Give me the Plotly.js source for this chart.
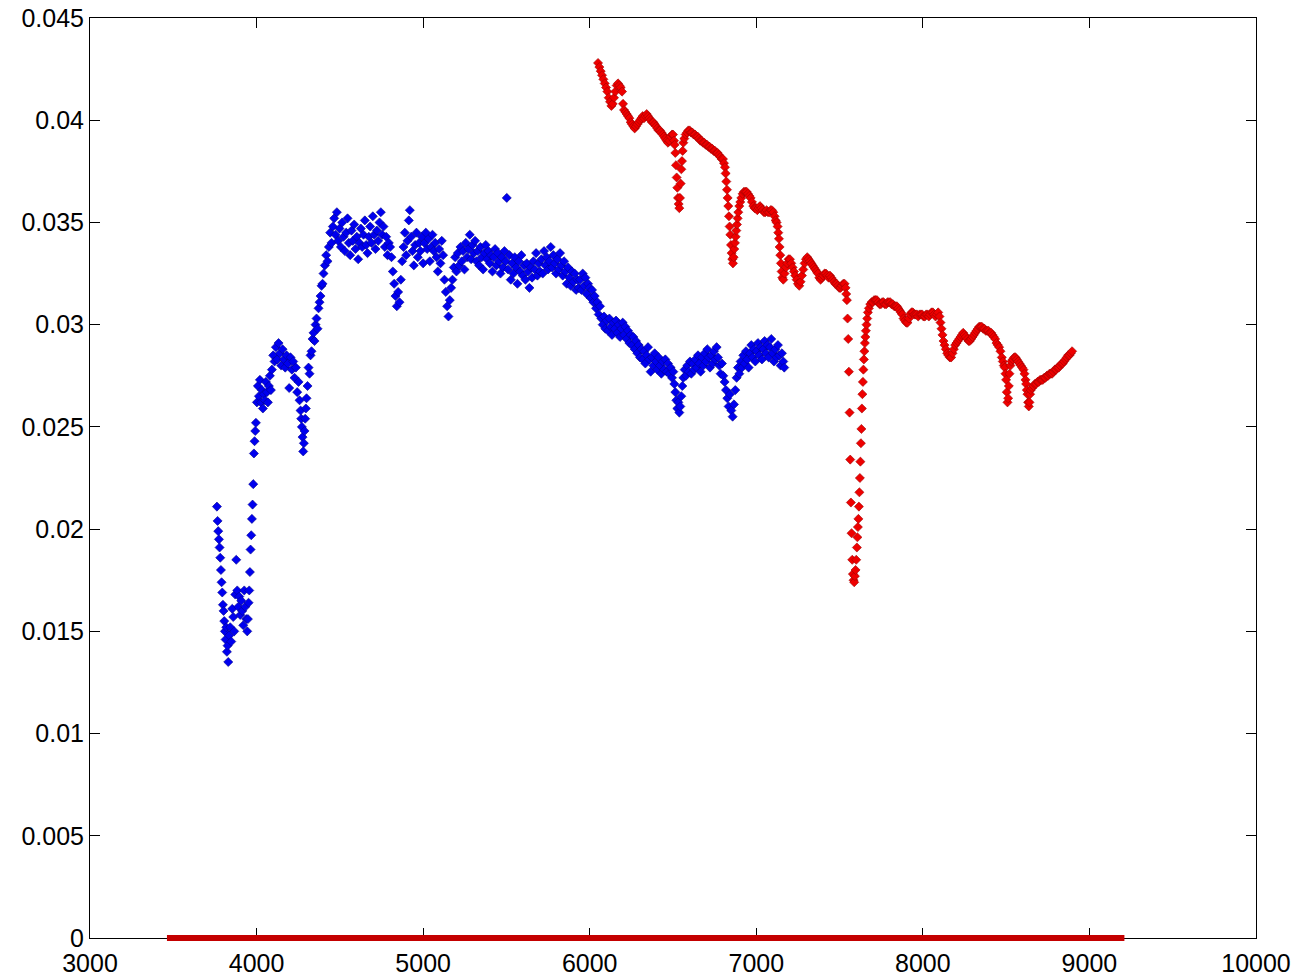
<!DOCTYPE html>
<html>
<head>
<meta charset="utf-8">
<script src="https://cdn.plot.ly/plotly-3.0.1.min.js"></script>
<style>html,body{margin:0;padding:0;background:#fff;}#chart{width:1298px;height:978px;}</style>
</head>
<body>
<div id="chart"></div>
<script>
// Blue series (wavelength, flux)
const blueX = [
3762,3766,3770,3774,3778,3782,3786,3790,3794,3798,3802,3806,3810,3814,3818,3822,3826,3830,
3836,3842,3848,3854,3860,3866,3872,3878,3884,3890,3896,3902,3908,3914,3920,3926,3932,3938,3944,
3948,3952,3956,3960,3964,3968,3972,3976,3980,3984,3988,3992,3996,
4002,4008,4014,4020,4026,4032,4038,4044,4050,4056,4062,4068,4074,4080,4086,
4092,4100,4108,4116,4124,4132,4140,4148,4156,4164,4172,4180,4188,4196,4204,4212,4220,4228,4236,4244,4252,4258,
4264,4268,4272,4276,4280,4284,4288,4292,4296,4300,
4306,4312,4318,4324,4330,4336,4342,4348,4354,4360,4366,4372,4378,4384,4390,4396,4402,4410,4418,4426,4434,4442,4450,4458,4466,4474,4482,
4490,4498,4506,4514,4522,4530,4538,4546,4554,4562,
4570,4578,4586,4594,4602,4610,4618,4626,4634,4642,
4650,4658,4666,4674,4682,4690,4698,4706,4714,4722,
4730,4738,4746,4754,4762,4770,4778,4786,4794,
4802,4810,4818,4826,4834,4842,4850,4858,4866,4874,4882,
4890,4898,4906,4914,4920,4928,4936,4944,4952,4960,
4968,4976,4984,4992,5000,5008,5016,5024,5032,5040,
5048,5056,5064,5072,5080,5088,5096,5104,5112,5120,
5128,5136,5144,5152,5160,5168,5176,5184,
5192,5200,5208,5216,5224,5232,5240,5248,5256,5264,
5272,5280,5288,5296,5304,5312,5320,5328,5336,5344,
5352,5360,5368,5376,5384,5392,5400,5408,5416,5424,
5432,5440,5448,5456,5464,5472,5480,5488,5496,5502,
5510,5518,5526,5534,5542,5550,5558,5566,5574,5582,
5590,5598,5606,5614,5622,5630,5638,5646,5654,5662,
5670,5678,5686,5694,5702,5710,5718,5726,5734,5742,
5750,5758,5766,5774,5782,5790,5798,
5806,5814,5822,5830,5838,5846,5854,5862,5870,5878,
5886,5894,5902,5910,5918,5926,5934,
5942,5950,5958,5966,5974,5982,5990,5998,6006,6014,
6022,6030,6038,6046,6054,6062,6070,6078,6086,6094,6102,
6110,6118,6126,6134,6142,6150,6158,6166,6174,6182,
6190,6198,6206,6214,6222,6230,6238,6246,6254,
6262,6270,6278,6286,6294,6302,6310,6318,6326,6334,
6342,6350,6358,6366,6374,6382,6390,6398,6406,6414,
6422,6430,6438,6446,6454,6462,6470,6478,6486,6494,6502,
6508,6514,6520,6526,6532,6538,6544,6550,6556,6562,
6570,6578,6586,6594,6602,6610,6618,6626,6634,6642,
6650,6658,6666,6674,6682,6690,6698,6706,6714,6722,
6730,6738,6746,6754,6762,6770,6778,6786,6794,6802,6810,
6818,6826,6834,6842,6850,6858,6866,6874,6882,
6890,6898,6906,6914,6922,6930,6938,6946,6954,6962,
6970,6978,6986,6994,7002,7010,7018,7026,7034,7042,
7050,7058,7066,7074,7082,7090,7098,7106,7114,7122,
7130,7138,7146,7154,7162,7168
];
const blueY = [
.0211,.0204,.0199,.0195,.0191,.0186,.0180,.0174,.0169,.0163,.0160,.0155,.0150,.0146,.0152,.0140,.0143,.0135,
.0148,.0152,.0145,.0161,.0157,.0150,.0168,.0185,.0170,.0162,.0167,.0158,.0165,.0160,.0153,.0170,.0162,.0156,.0150,
.0156,.0164,.0170,.0179,.0190,.0197,.0205,.0212,.0222,.0237,.0243,.0248,.0252,
.0262,.0270,.0265,.0273,.0262,.0268,.0259,.0266,.0263,.0272,.0267,.0262,.0270,.0275,.0268,
.0278,.0285,.0282,.0289,.0283,.0291,.0286,.0280,.0288,.0283,.0279,.0285,.0281,.0269,.0284,.0278,.0282,.0274,.0279,.0267,.0272,.0263,
.0258,.0254,.0250,.0245,.0238,.0242,.0248,.0254,.0259,.0264,
.0270,.0279,.0276,.0285,.0287,.0293,.0296,.0292,.0300,.0303,.0298,.0308,.0311,.0314,.0319,.0320,.0325,.0329,.0334,.0331,.0338,.0345,.0340,.0348,.0352,.0344,.0355,
.0341,.0347,.0338,.0350,.0343,.0336,.0345,.0352,.0340,.0334,
.0346,.0341,.0349,.0337,.0343,.0332,.0340,.0347,.0338,.0344,
.0351,.0339,.0335,.0343,.0348,.0340,.0353,.0344,.0337,.0346,
.0341,.0350,.0355,.0344,.0348,.0338,.0343,.0334,.0340,
.0338,.0333,.0326,.0320,.0314,.0309,.0316,.0311,.0322,.0331,.0338,
.0345,.0334,.0341,.0351,.0356,.0343,.0336,.0329,.0339,.0345,
.0333,.0340,.0336,.0343,.0330,.0340,.0345,.0337,.0342,.0331,
.0338,.0344,.0336,.0340,.0333,.0326,.0337,.0330,.0341,.0334,
.0322,.0316,.0309,.0304,.0312,.0318,.0322,.0328,
.0333,.0326,.0335,.0329,.0338,.0331,.0336,.0327,.0340,.0333,
.0337,.0344,.0332,.0339,.0335,.0341,.0331,.0336,.0329,.0338,
.0333,.0327,.0335,.0339,.0332,.0336,.0330,.0334,.0326,.0333,
.0337,.0329,.0335,.0331,.0325,.0333,.0328,.0336,.0331,.0362,
.0327,.0334,.0322,.0330,.0325,.0333,.0328,.0320,.0331,.0326,
.0334,.0324,.0329,.0322,.0330,.0326,.0318,.0328,.0323,.0331,
.0327,.0335,.0324,.0330,.0326,.0332,.0325,.0336,.0329,.0333,
.0327,.0331,.0338,.0328,.0334,.0330,.0325,
.0332,.0327,.0335,.0329,.0324,.0331,.0326,.0320,.0328,.0323,
.0319,.0326,.0321,.0325,.0317,.0322,.0318,
.0322,.0317,.0325,.0319,.0323,.0315,.0320,.0318,.0313,.0317,
.0311,.0314,.0308,.0311,.0305,.0309,.0303,.0300,.0304,.0298,.0302,
.0297,.0303,.0299,.0295,.0301,.0298,.0302,.0296,.0300,.0294,
.0298,.0301,.0295,.0299,.0293,.0297,.0291,.0295,.0290,
.0294,.0288,.0292,.0286,.0290,.0284,.0288,.0283,.0287,.0281,
.0285,.0289,.0283,.0277,.0284,.0280,.0286,.0282,.0278,.0284,
.0280,.0276,.0282,.0278,.0283,.0277,.0281,.0276,.0279,.0274,.0277,
.0271,.0267,.0263,.0259,.0262,.0257,.0260,.0265,.0270,.0274,
.0278,.0275,.0280,.0277,.0282,.0276,.0281,.0278,.0283,.0279,
.0285,.0281,.0277,.0284,.0280,.0286,.0282,.0288,.0284,.0279,
.0285,.0281,.0287,.0283,.0289,.0284,.0280,.0276,.0281,.0275,.0272,
.0268,.0264,.0260,.0266,.0258,.0255,.0261,.0268,.0274,
.0279,.0276,.0282,.0279,.0285,.0281,.0287,.0283,.0279,.0286,
.0290,.0284,.0288,.0282,.0287,.0291,.0285,.0289,.0283,.0288,
.0292,.0286,.0290,.0284,.0289,.0293,.0286,.0282,.0288,.0284,
.0290,.0285,.0280,.0286,.0282,.0279
];

// Red series (wavelength, flux)
const redX = [
6050,6058,6066,6074,6082,6090,6098,6106,6114,6122,
6130,6138,6146,6154,6162,6170,6178,6186,6194,6200,
6206,6214,6222,6230,6238,6246,6254,6262,6270,6278,
6286,6294,6302,6310,6318,6326,6334,6342,6350,6358,
6366,6374,6382,6390,6398,6406,6414,6422,6430,6438,
6446,6454,6462,6470,6478,6486,6494,6500,6506,6510,
6514,6518,6522,6526,6530,6534,6538,6542,6546,6550,
6554,6558,6562,6568,6576,6584,6592,6600,6608,6616,
6624,6632,6640,6648,6656,6664,6672,6680,6688,6696,
6704,6712,6720,6728,6736,6744,6752,6760,6768,6776,
6784,6792,6800,6806,6812,6816,6820,6824,6828,6832,
6836,6840,6844,6848,6852,6856,6860,6864,6868,6872,
6876,6880,6884,6888,6892,6898,6904,6910,6918,6926,
6934,6942,6950,6958,6966,6974,6982,6990,6998,7006,
7014,7022,7030,7038,7046,7054,7062,7070,7078,7086,
7094,7102,7110,7116,7122,7128,7132,7136,7140,7144,
7148,7152,7156,7162,7170,7178,7186,7194,7202,7210,
7218,7226,7234,7242,7250,7258,7266,7274,7282,7290,
7298,7306,7314,7322,7330,7338,7346,7354,7362,7370,
7378,7386,7394,7402,7410,7418,7426,7434,7442,7450,
7458,7466,7474,7482,7490,7498,7506,7514,7522,7530,
7536,7540,7544,7548,7552,7556,7560,7564,7568,7572,
7576,7580,7584,7588,7592,7596,7600,7604,7607,7610,
7613,7616,7619,7622,7625,7628,7631,7634,7637,7640,
7643,7646,7649,7652,7655,7658,7662,7666,7670,7676,
7684,7692,7700,7708,7716,7724,7732,7740,7748,7756,
7764,7772,7780,7788,7796,7804,7812,7820,7828,7836,
7844,7852,7860,7868,7876,7884,7892,7900,7908,7916,
7924,7932,7940,7948,7956,7964,7972,7980,7988,7996,
8004,8012,8020,8028,8036,8044,8052,8060,8068,8076,
8084,8092,8100,8106,8112,8118,8124,8130,8138,8146,
8154,8162,8170,8178,8186,8194,8202,8210,8218,8226,
8234,8242,8250,8258,8266,8274,8282,8290,8298,8306,
8314,8322,8330,8338,8346,8354,8362,8370,8378,8386,
8394,8402,8410,8418,8426,8434,8442,8450,8458,8466,
8474,8480,8486,8492,8496,8500,8504,8508,8512,8516,
8520,8526,8532,8540,8548,8556,8564,8572,8580,8588,
8596,8604,8610,8616,8620,8624,8628,8632,8636,8640,
8644,8648,8656,8664,8672,8680,8688,8696,8704,8712,
8720,8728,8736,8744,8752,8760,8768,8776,8784,8792,
8800,8808,8816,8824,8832,8840,8848,8856,8864,8872,
8880,8888,8896
];
const redY = [
.0428,.0426,.0424,.0422,.0420,.0418,.0416,.0414,.0411,.0409,
.0407,.0408,.0411,.0414,.0417,.0418,.0417,.0416,.0414,.0408,
.0405,.0404,.0403,.0402,.0401,.0399,.0398,.0397,.0396,.0397,
.0398,.0399,.0400,.0401,.0402,.0401,.0402,.0403,.0402,.0401,
.0400,.0399,.0399,.0398,.0397,.0396,.0395,.0395,.0394,.0393,
.0392,.0391,.0390,.0389,.0390,.0392,.0393,.0393,.0390,.0388,
.0384,.0378,.0372,.0367,.0362,.0359,.0357,.0362,.0369,.0376,
.0380,.0385,.0389,.0391,.0393,.0394,.0395,.0395,.0394,.0394,
.0393,.0393,.0392,.0392,.0391,.0390,.0390,.0389,.0389,.0388,
.0388,.0387,.0387,.0386,.0386,.0385,.0385,.0384,.0384,.0383,
.0382,.0381,.0381,.0379,.0377,.0374,.0370,.0366,.0362,.0358,
.0353,.0348,.0344,.0339,.0335,.0332,.0330,.0333,.0337,.0340,
.0343,.0346,.0349,.0352,.0355,.0358,.0360,.0362,.0364,.0365,
.0365,.0365,.0364,.0363,.0362,.0360,.0358,.0357,.0357,.0356,
.0357,.0358,.0357,.0356,.0355,.0355,.0356,.0355,.0355,.0356,
.0356,.0355,.0353,.0351,.0350,.0348,.0345,.0342,.0338,.0334,
.0330,.0326,.0323,.0322,.0325,.0328,.0330,.0332,.0332,.0330,
.0328,.0326,.0324,.0322,.0320,.0319,.0321,.0324,.0327,.0330,
.0332,.0333,.0332,.0331,.0330,.0329,.0328,.0327,.0326,.0325,
.0323,.0322,.0323,.0324,.0325,.0325,.0324,.0323,.0324,.0323,
.0322,.0321,.0320,.0320,.0319,.0318,.0318,.0319,.0320,.0320,
.0318,.0315,.0312,.0303,.0293,.0277,.0257,.0234,.0213,.0198,
.0185,.0178,.0175,.0174,.0177,.0180,.0185,.0191,.0196,.0201,
.0205,.0211,.0218,.0225,.0233,.0242,.0249,.0259,.0266,.0272,
.0278,.0283,.0287,.0291,.0294,.0297,.0300,.0303,.0306,.0308,
.0310,.0311,.0311,.0312,.0312,.0312,.0311,.0310,.0310,.0311,
.0311,.0310,.0310,.0311,.0311,.0311,.0310,.0310,.0309,.0309,
.0309,.0308,.0307,.0306,.0305,.0303,.0302,.0301,.0301,.0303,
.0305,.0306,.0306,.0305,.0305,.0305,.0304,.0305,.0305,.0305,
.0304,.0304,.0305,.0305,.0304,.0305,.0306,.0306,.0305,.0304,
.0305,.0306,.0304,.0301,.0298,.0295,.0292,.0290,.0288,.0286,
.0285,.0284,.0284,.0286,.0288,.0290,.0291,.0292,.0293,.0294,
.0295,.0296,.0295,.0294,.0293,.0292,.0292,.0293,.0294,.0295,
.0296,.0297,.0298,.0299,.0299,.0299,.0298,.0298,.0297,.0297,
.0297,.0296,.0296,.0295,.0294,.0293,.0291,.0290,.0289,.0287,
.0284,.0282,.0280,.0279,.0276,.0273,.0267,.0262,.0264,.0270,
.0276,.0280,.0282,.0283,.0284,.0284,.0283,.0282,.0281,.0280,
.0279,.0278,.0276,.0273,.0271,.0268,.0266,.0262,.0260,.0262,
.0266,.0268,.0269,.0270,.0271,.0271,.0272,.0272,.0273,.0273,
.0273,.0274,.0274,.0275,.0275,.0276,.0276,.0276,.0277,.0278,
.0278,.0279,.0279,.0280,.0281,.0281,.0282,.0283,.0284,.0285,
.0285,.0286,.0287
];

// Zero-level series extent (wavelength range)
const zeroX = [3462, 9210];
const zeroY = [0, 0];

// Ticks
const xTickVals = [3000,4000,5000,6000,7000,8000,9000,10000];
const xTickText = ['3000','4000','5000','6000','7000','8000','9000','10000'];
const yTickVals = [0,0.005,0.01,0.015,0.02,0.025,0.03,0.035,0.04,0.045];
const yTickText = ['0','0.005','0.01','0.015','0.02','0.025','0.03','0.035','0.04','0.045'];

const font = {family: 'Liberation Sans, Arial, Helvetica, sans-serif', size: 25, color: '#000'};

const traces = [
  {x: blueX, y: blueY, type: 'scatter', mode: 'markers', cliponaxis: false,
   marker: {symbol: 'diamond', size: 7, color: '#0000ee', line: {color: '#00008c', width: 0.6}}},
  {x: redX, y: redY, type: 'scatter', mode: 'markers', cliponaxis: false,
   marker: {symbol: 'diamond', size: 7, color: '#ee0000', line: {color: '#a00000', width: 0.6}}}
];

const axisCommon = {
  ticks: 'inside', ticklen: 10, tickwidth: 1, tickcolor: '#000',
  showline: true, linecolor: '#000', linewidth: 1, mirror: 'ticks',
  showgrid: false, zeroline: false, tickfont: font
};

const layout = {
  width: 1298, height: 978,
  margin: {l: 90, r: 42, t: 18, b: 40, pad: 0},
  paper_bgcolor: '#fff', plot_bgcolor: '#fff',
  showlegend: false,
  xaxis: Object.assign({}, axisCommon, {range: [3000, 10000], tickmode: 'array', tickvals: xTickVals, ticktext: xTickText, ticklabelstandoff: 3}),
  yaxis: Object.assign({}, axisCommon, {range: [0, 0.045], tickmode: 'array', tickvals: yTickVals, ticktext: yTickText}),
  shapes: [{type: 'line', xref: 'x', yref: 'paper', x0: zeroX[0], x1: zeroX[1], y0: zeroY[0], y1: zeroY[1],
            line: {color: '#c40000', width: 6}, layer: 'above'}]
};

Plotly.newPlot('chart', traces, layout, {displayModeBar: false, staticPlot: true});
</script>
</body>
</html>
